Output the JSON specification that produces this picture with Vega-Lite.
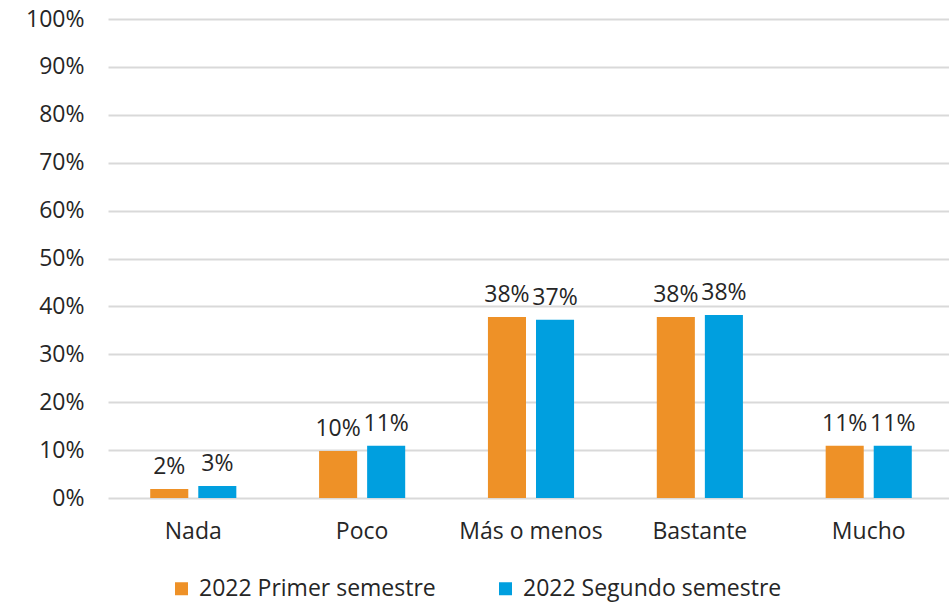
{
  "$schema": "https://vega.github.io/schema/vega-lite/v6.json",
  "width": 846,
  "height": 479,
  "autosize": "none",
  "padding": {"left": 108, "top": 19, "right": 0, "bottom": 107},
  "background": "white",
  "config": {
    "font": "Open Sans",
    "view": {"stroke": null},
    "axis": {"labelFont": "Open Sans", "labelColor": "#262626", "labelFontSize": 23, "titleFont": "Open Sans"},
    "legend": {"labelFont": "Open Sans", "labelColor": "#262626", "labelFontSize": 23}
  },
  "data": {
    "values": [
      {"cat": "Nada", "serie": "2022 Primer semestre", "v": 0.019, "label": "2%"},
      {"cat": "Nada", "serie": "2022 Segundo semestre", "v": 0.025, "label": "3%"},
      {"cat": "Poco", "serie": "2022 Primer semestre", "v": 0.098, "label": "10%"},
      {"cat": "Poco", "serie": "2022 Segundo semestre", "v": 0.109, "label": "11%"},
      {"cat": "Más o menos", "serie": "2022 Primer semestre", "v": 0.378, "label": "38%"},
      {"cat": "Más o menos", "serie": "2022 Segundo semestre", "v": 0.372, "label": "37%"},
      {"cat": "Bastante", "serie": "2022 Primer semestre", "v": 0.378, "label": "38%"},
      {"cat": "Bastante", "serie": "2022 Segundo semestre", "v": 0.382, "label": "38%"},
      {"cat": "Mucho", "serie": "2022 Primer semestre", "v": 0.109, "label": "11%"},
      {"cat": "Mucho", "serie": "2022 Segundo semestre", "v": 0.109, "label": "11%"}
    ]
  },
  "encoding": {
    "x": {
      "field": "cat", "type": "nominal",
      "sort": ["Nada", "Poco", "Más o menos", "Bastante", "Mucho"],
      "scale": {"paddingInner": 0.49, "paddingOuter": 0.25},
      "axis": {"title": null, "labelAngle": 0, "ticks": false, "domain": false, "labelPadding": 22}
    },
    "xOffset": {
      "field": "serie", "type": "nominal",
      "scale": {"paddingInner": 0.208, "paddingOuter": 0}
    },
    "y": {
      "field": "v", "type": "quantitative",
      "scale": {"domain": [0, 1], "nice": false},
      "axis": {"title": null, "format": ".0%", "values": [0, 0.1, 0.2, 0.3, 0.4, 0.5, 0.6, 0.7, 0.8, 0.9, 1], "labelOverlap": false, "ticks": false, "domain": false, "gridColor": "#D9D9D9", "gridWidth": 2, "labelPadding": 24}
    }
  },
  "layer": [
    {
      "mark": {"type": "bar"},
      "encoding": {
        "color": {
          "field": "serie", "type": "nominal",
          "scale": {"domain": ["2022 Primer semestre", "2022 Segundo semestre"], "range": ["#EE9127", "#009FDF"]},
          "legend": {"title": null, "orient": "none", "legendX": 62, "legendY": 558, "padding": 0, "direction": "horizontal", "symbolType": "square", "symbolSize": 169, "symbolStrokeWidth": 0, "columnPadding": 58, "labelOffset": 6, "labelLimit": 500}
        }
      }
    },
    {
      "mark": {"type": "text", "baseline": "alphabetic", "dy": -15, "fontSize": 23, "color": "#262626"},
      "encoding": {"text": {"field": "label"}}
    }
  ]
}
